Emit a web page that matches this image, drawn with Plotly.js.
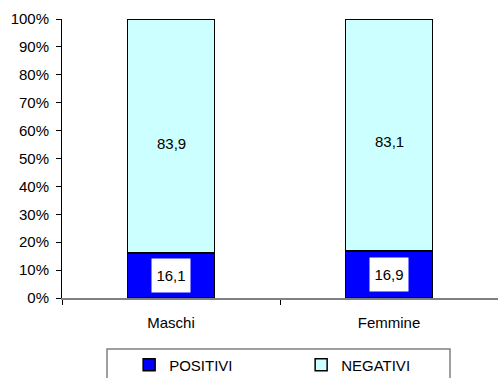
<!DOCTYPE html>
<html>
<head>
<meta charset="utf-8">
<script src="https://cdn.plot.ly/plotly-3.0.1.min.js"></script>
<style>html,body{margin:0;padding:0;background:#fff}#chart{width:498px;height:378px}</style>
</head>
<body>
<div id="chart"></div>
<script>
const categories = ["Maschi", "Femmine"];
const positivi = [16.1, 16.9];
const negativi = [83.9, 83.1];
const seriesNames = ["POSITIVI", "NEGATIVI"];
const yTickVals = [0,10,20,30,40,50,60,70,80,90,100];
const yTickText = ["0%","10%","20%","30%","40%","50%","60%","70%","80%","90%","100%"];

const fmt = v => v.toFixed(1).replace(".", ",");
const FONT = "Arial, 'Liberation Sans', sans-serif";
const FS = 15;

const traces = [
  {type:"bar", name:seriesNames[0], x:categories, y:positivi,
   marker:{color:"#0000FF", line:{color:"#000000", width:1.5}}, width:0.4, hoverinfo:"skip"},
  {type:"bar", name:seriesNames[1], x:categories, y:negativi,
   marker:{color:"#CCFFFF", line:{color:"#000000", width:1.5}}, width:0.4, hoverinfo:"skip"}
];

const annotations = [];
categories.forEach((c, i) => {
  annotations.push({x:c, y:positivi[i]/2, xref:"x", yref:"y", text:fmt(positivi[i]),
    showarrow:false, bgcolor:"#FFFFFF", width:38, height:33, borderpad:0,
    font:{family:FONT, size:FS, color:"#000"}});
  annotations.push({x:c, y:positivi[i] + negativi[i]/2, xref:"x", yref:"y", text:fmt(negativi[i]),
    showarrow:false, yshift:-7, font:{family:FONT, size:FS, color:"#000"}});
});

const layout = {
  width:498, height:378,
  margin:{l:62, r:0, t:19, b:80, pad:0},
  paper_bgcolor:"#fff", plot_bgcolor:"#fff",
  barmode:"stack",
  showlegend:true,
  font:{family:FONT, size:FS, color:"#000"},
  xaxis:{type:"category", range:[-0.5,1.5], showline:true, linecolor:"#808080", linewidth:1.5,
    ticks:"outside", tickson:"boundaries", ticklen:5, tickcolor:"#000", tickwidth:1,
    showgrid:false, zeroline:false, ticklabelstandoff:10, fixedrange:true, automargin:false},
  yaxis:{range:[0,100], tickvals:yTickVals, ticktext:yTickText, showline:true, linecolor:"#000",
    linewidth:1, ticks:"outside", ticklen:5, tickcolor:"#000", showgrid:false, zeroline:false,
    ticklabelstandoff:4, fixedrange:true, automargin:false},
  legend:{orientation:"h", x:0.154, xanchor:"left", xref:"paper", y:0.078, yref:"container", yanchor:"top",
    bgcolor:"rgba(0,0,0,0)", borderwidth:0, entrywidth:127, entrywidthmode:"pixels",
    traceorder:"normal", font:{family:FONT, size:FS, color:"#000"}},
  shapes:[{type:"rect", xref:"paper", yref:"paper",
    x0:(107-62)/436, x1:(450-62)/436, y0:(298-349)/279, y1:(298-390)/279,
    line:{color:"#808080", width:1.5}}],
  annotations:annotations
};

Plotly.newPlot("chart", traces, layout, {displayModeBar:false, staticPlot:true});
</script>
</body>
</html>
